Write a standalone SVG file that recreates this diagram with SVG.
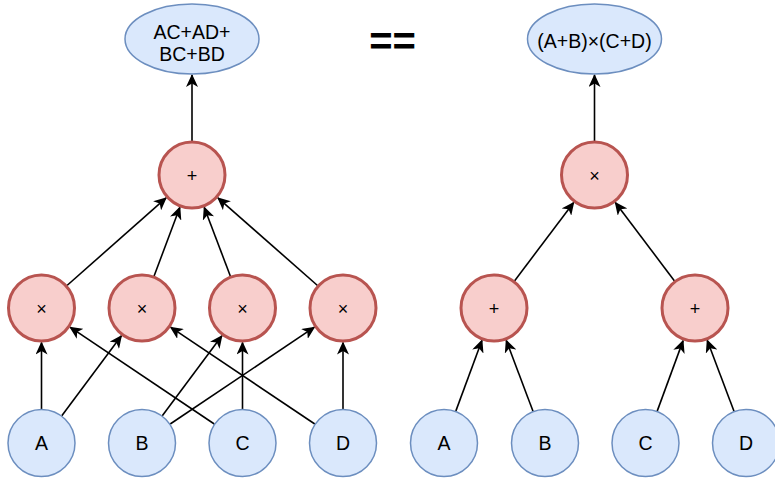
<svg xmlns="http://www.w3.org/2000/svg" width="775" height="478" viewBox="0 0 775 478">
  <defs>
    <style>
      .leaf { fill: #dae8fc; stroke: #6c8ebf; stroke-width: 1.5; }
      .op { fill: #f8cecc; stroke: #b85450; stroke-width: 3; }
      .lbl { font-family: "Liberation Sans", Arial, sans-serif; font-size: 19.5px; fill: #000; text-anchor: middle; }
      .sym { font-family: "Liberation Sans", Arial, sans-serif; font-size: 18px; fill: #000; text-anchor: middle; }
      .eq { font-family: "Liberation Sans", Arial, sans-serif; font-size: 40px; font-weight: bold; fill: #000; text-anchor: middle; }
      .edge { stroke: #000; stroke-width: 1.6; fill: none; marker-end: url(#arrow); }
    </style>
    <marker id="arrow" viewBox="0 0 13 12" refX="12" refY="6" markerWidth="13" markerHeight="12" markerUnits="userSpaceOnUse" orient="auto">
      <path d="M13,6 L0,0 L3.5,6 L0,12 Z" fill="#000"/>
    </marker>
  </defs>

  <!-- connectors -->
  <g id="edges">
    <!-- left expression: products to leaves -->
    <line class="edge" x1="41.5" y1="409" x2="41.5" y2="342.5"/>
    <line class="edge" x1="61.8" y1="415.7" x2="121.4" y2="335.7"/>
    <line class="edge" x1="162.3" y1="415.7" x2="221.9" y2="335.7"/>
    <line class="edge" x1="170.2" y1="424" x2="314.4" y2="327.2"/>
    <line class="edge" x1="214.3" y1="424" x2="70.1" y2="327.2"/>
    <line class="edge" x1="242.5" y1="409" x2="242.5" y2="342.5"/>
    <line class="edge" x1="314.8" y1="424" x2="170.6" y2="327.2"/>
    <line class="edge" x1="343" y1="409" x2="343" y2="342.5"/>
    <!-- products into the sum -->
    <line class="edge" x1="67" y1="285.5" x2="166.1" y2="197.9"/>
    <line class="edge" x1="154" y1="276.2" x2="179.9" y2="207.3"/>
    <line class="edge" x1="230.4" y1="276.2" x2="204.2" y2="207.3"/>
    <line class="edge" x1="317.5" y1="285.5" x2="217.9" y2="197.8"/>
    <line class="edge" x1="192" y1="141" x2="192" y2="75"/>
    <!-- right expression -->
    <line class="edge" x1="594.5" y1="141" x2="594.5" y2="75"/>
    <line class="edge" x1="514.5" y1="280.9" x2="573.7" y2="202.5"/>
    <line class="edge" x1="674.5" y1="280.9" x2="615.3" y2="202.5"/>
    <line class="edge" x1="455.8" y1="411.1" x2="482" y2="340.3"/>
    <line class="edge" x1="533" y1="411.2" x2="506.2" y2="340.3"/>
    <line class="edge" x1="657.2" y1="411.1" x2="683.1" y2="340.6"/>
    <line class="edge" x1="734" y1="411.2" x2="707.2" y2="340.3"/>
  </g>

  <!-- left tree -->
  <g id="sum-expr">
    <ellipse class="leaf" cx="192" cy="39" rx="67" ry="35"/>
    <text class="lbl" x="192" y="39.3">AC+AD+</text>
    <text class="lbl" x="192" y="61.3">BC+BD</text>
  </g>
  <g id="plus-top"><circle class="op" cx="192" cy="175" r="33"/><text class="sym" x="192" y="182">+</text></g>
  <g id="mul-ac"><circle class="op" cx="41.5" cy="308" r="33"/><text class="sym" x="41.5" y="315">×</text></g>
  <g id="mul-ad"><circle class="op" cx="142" cy="308" r="33"/><text class="sym" x="142" y="315">×</text></g>
  <g id="mul-bc"><circle class="op" cx="242.5" cy="308" r="33"/><text class="sym" x="242.5" y="315">×</text></g>
  <g id="mul-bd"><circle class="op" cx="343" cy="308" r="33"/><text class="sym" x="343" y="315">×</text></g>
  <g id="leaf-a1"><circle class="leaf" cx="41.5" cy="443" r="33.5"/><text class="lbl" x="41.5" y="450">A</text></g>
  <g id="leaf-b1"><circle class="leaf" cx="142" cy="443" r="33.5"/><text class="lbl" x="142" y="450">B</text></g>
  <g id="leaf-c1"><circle class="leaf" cx="242.5" cy="443" r="33.5"/><text class="lbl" x="242.5" y="450">C</text></g>
  <g id="leaf-d1"><circle class="leaf" cx="343" cy="443" r="33.5"/><text class="lbl" x="343" y="450">D</text></g>

  <!-- equality sign -->
  <g id="equals"><text class="eq" x="392.5" y="55">==</text></g>

  <!-- right tree -->
  <g id="product-expr">
    <ellipse class="leaf" cx="594.5" cy="39" rx="67" ry="35"/>
    <text class="lbl" x="594.5" y="48">(A+B)×(C+D)</text>
  </g>
  <g id="mul-top"><circle class="op" cx="594.5" cy="175" r="33"/><text class="sym" x="594.5" y="182">×</text></g>
  <g id="plus-ab"><circle class="op" cx="494" cy="308" r="33"/><text class="sym" x="494" y="315">+</text></g>
  <g id="plus-cd"><circle class="op" cx="695" cy="308" r="33"/><text class="sym" x="695" y="315">+</text></g>
  <g id="leaf-a2"><circle class="leaf" cx="444" cy="443" r="33.5"/><text class="lbl" x="444" y="450">A</text></g>
  <g id="leaf-b2"><circle class="leaf" cx="545" cy="443" r="33.5"/><text class="lbl" x="545" y="450">B</text></g>
  <g id="leaf-c2"><circle class="leaf" cx="645.5" cy="443" r="33.5"/><text class="lbl" x="645.5" y="450">C</text></g>
  <g id="leaf-d2"><circle class="leaf" cx="746" cy="443" r="33.5"/><text class="lbl" x="746" y="450">D</text></g>
</svg>
